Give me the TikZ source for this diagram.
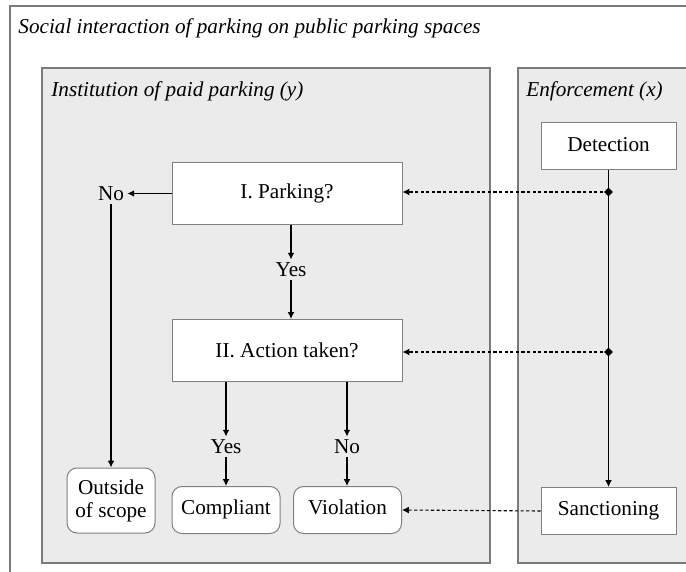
\documentclass[tikz,border=0pt]{standalone}
\usepackage{fontspec}
\setmainfont{Liberation Serif}
\usetikzlibrary{arrows.meta,positioning,shapes.geometric}
\definecolor{panelgray}{HTML}{EBEBEB}
\definecolor{framegray}{HTML}{7A7A7A}
\definecolor{boxgray}{HTML}{808080}

\begin{document}
\begin{tikzpicture}[x=0.5pt,y=-0.5pt,>={Latex[length=3.4pt,width=3.4pt]},
                    font=\fontsize{10.6}{11.5}\selectfont,
                    stepnode/.style={rectangle, draw=boxgray, fill=white, line width=0.5pt, minimum width=115pt, minimum height=31pt},
                    actornode/.style={rectangle, draw=boxgray, fill=white, line width=0.5pt, minimum width=67.5pt, minimum height=23.5pt},
                    outcome/.style={rectangle, rounded corners=5pt, draw=boxgray, fill=white, line width=0.5pt, minimum width=54pt, minimum height=23.5pt, align=center},
                    panel/.style={draw=framegray, fill=panelgray, line width=0.6pt}]
  \tikzstyle{answer}=[inner sep=1.5pt]
  \tikzstyle{oneline}=[text height=7.2pt, text depth=2.2pt]
  \tikzstyle{link}=[->, black, line width=0.65pt]
  \tikzstyle{hint}=[->, black, line width=0.55pt, dash pattern=on 1.6pt off 1.2pt]
  \tikzstyle{knot}=[diamond, fill=black, inner sep=0pt, minimum size=4.6pt]

  % frame and panels
  \clip (0,0) rectangle (686,572);
  \draw[framegray, line width=0.6pt] (10,6) rectangle (720,600);
  \node[anchor=base west, inner sep=0pt, font=\fontsize{10.6}{11.5}\selectfont\itshape] (title) at (18,34) {Social interaction of parking on public parking spaces};
  \draw[panel] (42,68) rectangle (490,563);
  \draw[panel] (518,68) rectangle (720,563);
  \node[anchor=base west, inner sep=0pt, font=\fontsize{10.6}{11.5}\selectfont\itshape] (instlabel) at (51,97) {Institution of paid parking (y)};
  \node[anchor=base west, inner sep=0pt, font=\fontsize{10.6}{11.5}\selectfont\itshape] (enflabel) at (526,97) {Enforcement (x)};

  % institution
  \node[stepnode]                                       (park)              at (287,193.5) {I. Parking?};
  \node[stepnode]                                       (act)  [below of=park, node distance=78.5pt] {II. Action taken?};
  \node[answer]                                         (no1)  [left of=park, node distance=88pt]   {No};
  \node[answer]                                         (yes1)              at (291,270)   {Yes};
  \node[answer]                                         (yes2)              at (226,447)   {Yes};
  \node[answer]                                         (no2)               at (347,447)   {No};
  \node[outcome, minimum width=44pt, minimum height=32.5pt] (out)           at (111,500.5) {Outside\\of scope};
  \node[outcome, oneline]                               (comp)              at (226,510)   {Compliant};
  \node[outcome, oneline]                               (viol)              at (347.5,510) {Violation};

  % enforcement
  \node[actornode, oneline]                             (det)               at (608.5,146.5) {Detection};
  \node[actornode, oneline]                             (sanc)              at (608.5,511)   {Sanctioning};
  \coordinate                                           (k1)                at (608.5,192);
  \coordinate                                           (k2)                at (608.5,352);

  \path (park.west)        edge[link] (no1.east)
        (no1.south)        edge[link] (out.north)
        (park.south -| yes1) edge[link] (yes1.north)
        (yes1.south)       edge[link] (act.north -| yes1)
        (act.south -| yes2) edge[link] (yes2.north)
        (yes2.south)       edge[link] (comp.north)
        (act.south -| no2) edge[link] (no2.north)
        (no2.south)        edge[link] (viol.north -| no2)
        (det.south)        edge[link] (sanc.north);
  \path (k1) edge[hint] (k1 -| park.east)
        (k2) edge[hint] (k2 -| act.east)
        (sanc.west) edge[hint] (viol.east);
  \node[knot] at (k1) {};
  \node[knot] at (k2) {};
\end{tikzpicture}
\end{document}
